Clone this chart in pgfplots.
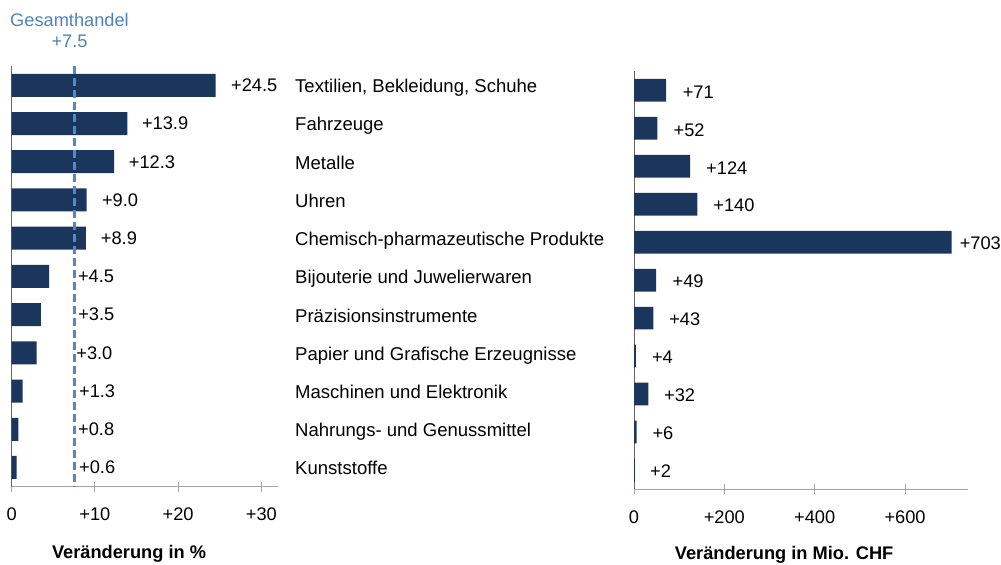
\documentclass[border=0pt]{standalone}
\usepackage{pgfplots}
\usepackage{pgfplotstable}
\pgfplotsset{compat=1.18}
\usepackage{fontspec}
\setmainfont{Liberation Sans}
\definecolor{barblue}{RGB}{27,54,93}
\definecolor{dashblue}{RGB}{84,134,200}
\definecolor{titleblue}{RGB}{79,129,189}
\definecolor{axisgray}{RGB}{166,166,166}
\definecolor{yaxisgray}{RGB}{100,100,100}

\pgfplotstableread{
y x dx label
0 24.5 15.4 +24.5
1 13.9 14.5 +13.9
2 12.3 14.7 +12.3
3 9.0 15.3 +9.0
4 8.9 15.0 +8.9
5 4.5 28.7 +4.5
6 3.5 37.3 +3.5
7 3.0 39.5 +3.0
8 1.3 56.4 +1.3
9 0.8 59.6 +0.8
10 0.6 62.3 +0.6
}\lefttable

\pgfplotstableread{
y x dx label
0 71 16.5 +71
1 52 16.0 +52
2 124 16.0 +124
3 140 16.0 +140
4 703 8.0 +703
5 49 16.3 +49
6 43 15.7 +43
7 4 16.0 +4
8 32 15.5 +32
9 6 15.6 +6
10 2 15.1 +2
}\righttable

\begin{document}
\begin{tikzpicture}[font=\fontsize{18.3}{22}\selectfont]
\useasboundingbox (0,0) rectangle (1001bp,565bp);

% Gesamthandel annotation
\node[anchor=base, text=titleblue, inner sep=0pt] at (69.5bp,538.3bp) {Gesamthandel};
\node[anchor=base, text=titleblue, inner sep=0pt] at (69.5bp,517.7bp) {+7.5};

\begin{axis}[
  at={(11.7bp,78.4bp)}, anchor=south west,
  scale only axis, width=266.3bp, height=420.4bp,
  xmin=0, xmax=32, ymin=-0.5, ymax=10.5, y dir=reverse,
  axis x line=bottom, axis y line=left,
  x axis line style={draw=axisgray, line width=1bp, -},
  y axis line style={draw=yaxisgray, line width=1bp, -},
  xtick={0,10,20,30}, xticklabels={0,+10,+20,+30},
  xtick style={draw=axisgray, line width=1bp},
  tick align=center, major tick length=10bp,
  xticklabel style={anchor=base, inner sep=0pt, yshift=-29.3bp},
  ytick={0,...,10},
  yticklabels={{Textilien, Bekleidung, Schuhe},Fahrzeuge,Metalle,Uhren,Chemisch-pharmazeutische Produkte,Bijouterie und Juwelierwaren,Präzisionsinstrumente,Papier und Grafische Erzeugnisse,Maschinen und Elektronik,Nahrungs- und Genussmittel,Kunststoffe},
  ytick style={draw=none},
  yticklabel style={anchor=base west, inner sep=0pt, xshift=288.3bp, yshift=-7.4bp, font=\fontsize{18.6}{22}\selectfont},
  xlabel={\textbf{Veränderung in \%}},
  xlabel style={at={(axis description cs:0.4405,0)}, anchor=base, yshift=-72.3bp, inner sep=0pt},
  /pgf/number format/assume math mode=true,
  clip=false,
]
\addplot[xbar, bar width=23bp, bar shift=0pt, fill=barblue, draw=none,
  point meta=explicit symbolic,
  nodes near coords, nodes near coords align={horizontal},
  visualization depends on={\thisrow{dx} \as \dx},
  every node near coord/.append style={anchor=west, inner sep=0pt, xshift=\dx*1bp, text=black}]
  table[x=x, y=y, meta=label] {\lefttable};
\addplot[color=dashblue, line width=3bp, dash pattern=on 8bp off 4bp, mark=none]
  coordinates {(7.5,-0.5) (7.5,10.5)};
\end{axis}

\begin{axis}[
  at={(634bp,76bp)}, anchor=south west,
  scale only axis, width=334.3bp, height=417.7bp,
  xmin=0, xmax=740, ymin=-0.5, ymax=10.5, y dir=reverse,
  axis x line=bottom, axis y line=left,
  x axis line style={draw=axisgray, line width=1bp, -},
  y axis line style={draw=yaxisgray, line width=1bp, -},
  xtick={0,200,400,600}, xticklabels={0,+200,+400,+600},
  xtick style={draw=axisgray, line width=1bp},
  tick align=center, major tick length=10bp,
  xticklabel style={anchor=base, inner sep=0pt, yshift=-29bp},
  ytick=\empty,
  xlabel={\textbf{Veränderung in Mio. CHF}},
  xlabel style={at={(axis description cs:0.449,0)}, anchor=base, yshift=-70bp, inner sep=0pt},
  /pgf/number format/assume math mode=true,
  clip=false,
]
\addplot[xbar, bar width=22.7bp, bar shift=0pt, fill=barblue, draw=none,
  point meta=explicit symbolic,
  nodes near coords, nodes near coords align={horizontal},
  visualization depends on={\thisrow{dx} \as \dx},
  every node near coord/.append style={anchor=west, inner sep=0pt, xshift=\dx*1bp, yshift=-1.5bp, text=black}]
  table[x=x, y=y, meta=label] {\righttable};
\end{axis}
\end{tikzpicture}
\end{document}
